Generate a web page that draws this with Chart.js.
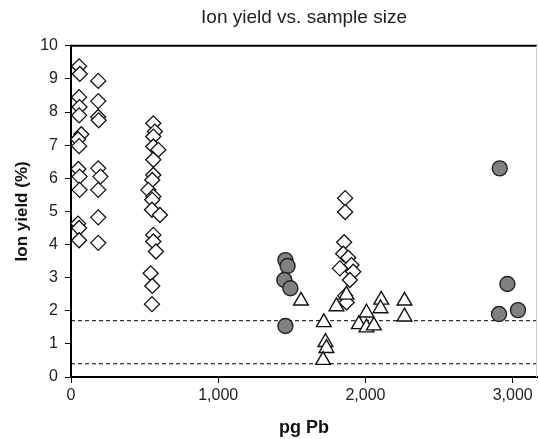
<!DOCTYPE html>
<html>
<head>
<meta charset="utf-8">
<script src="https://cdn.jsdelivr.net/npm/chart.js@4"></script>
<style>
  html, body { margin: 0; padding: 0; background: #fff; }
  #wrap { width: 539px; height: 439px; }
</style>
</head>
<body>
<div id="wrap"><canvas id="myChart" width="539" height="439"></canvas></div>
<script>
// open diamonds
const diamondX = [55, 60, 55, 58, 55, 70, 48, 55, 50, 58, 58, 48, 55, 55,
    185, 185, 185, 188, 185, 200, 185, 185, 185,
    559, 570, 559, 559, 593, 559, 559, 552, 525, 559, 552, 550, 604, 559, 559, 577, 541, 552, 550,
    1862, 1862, 1855, 1849, 1883, 1905, 1826, 1917, 1894, 1862, 1872];
const diamondY = [9.38, 9.15, 8.45, 8.15, 7.9, 7.33, 7.18, 6.97, 6.28, 6.05, 5.65, 4.63, 4.5, 4.13,
    8.94, 8.33, 7.85, 7.75, 6.3, 6.05, 5.65, 4.82, 4.05,
    7.66, 7.41, 7.26, 6.96, 6.86, 6.56, 6.1, 5.95, 5.65, 5.45, 5.35, 5.05, 4.89, 4.29, 4.09, 3.79, 3.13, 2.75, 2.2,
    5.4, 4.98, 4.07, 3.72, 3.6, 3.38, 3.28, 3.18, 2.93, 2.45, 2.25];

// grey circles
const circleX = [1456, 1471, 1449, 1490, 1456, 2912, 2964, 3036, 2907];
const circleY = [3.53, 3.35, 2.93, 2.68, 1.54, 6.3, 2.81, 2.02, 1.9];

// open triangles
const triangleX = [1562, 1803, 1871, 1717, 1728, 1735, 1712, 2007, 1955, 2007, 2057, 2107, 2102, 2265, 2265];
const triangleY = [2.3, 2.13, 2.48, 1.65, 1.05, 0.87, 0.51, 1.94, 1.59, 1.49, 1.55, 2.33, 2.07, 2.3, 1.82];

// dashed reference levels
const refLevels = [1.7, 0.4];

const xTicks = [0, 1000, 2000, 3000];
const xMin = 0, xMax = 3165;
const yMin = 0, yMax = 10;

function pts(xs, ys) {
    return xs.map((x, i) => ({ x: x, y: ys[i] }));
}

const refSets = refLevels.map(v => ({
    type: 'line',
    data: [{ x: xMin, y: v }, { x: xMax, y: v }],
    borderColor: '#000',
    borderWidth: 1,
    borderDash: [4, 3],
    pointRadius: 0,
    fill: false
}));

// frame: top line + faint right line
const frame = {
    id: 'frame',
    afterDraw(chart) {
        const a = chart.chartArea, c = chart.ctx;
        c.save();
        c.strokeStyle = '#000';
        c.lineWidth = 2;
        c.beginPath();
        c.moveTo(a.left - 1, a.top);
        c.lineTo(a.right, a.top);
        c.stroke();
        c.strokeStyle = '#ccc';
        c.lineWidth = 1;
        c.beginPath();
        c.moveTo(a.right - 0.5, a.top);
        c.lineTo(a.right - 0.5, a.bottom);
        c.stroke();
        c.restore();
    }
};

const ctx = document.getElementById('myChart').getContext('2d');
new Chart(ctx, {
    type: 'scatter',
    data: {
        datasets: [
            {
                data: pts(triangleX, triangleY),
                pointStyle: 'triangle',
                pointRadius: 8.5,
                backgroundColor: '#fff',
                borderColor: '#111',
                borderWidth: 1.4
            },
            {
                data: pts(circleX, circleY),
                pointStyle: 'circle',
                pointRadius: 7.5,
                backgroundColor: '#808080',
                borderColor: '#222',
                borderWidth: 1.4
            },
            {
                data: pts(diamondX, diamondY),
                pointStyle: 'rectRot',
                pointRadius: 7.5,
                backgroundColor: '#fff',
                borderColor: '#111',
                borderWidth: 1.3
            },
            ...refSets
        ]
    },
    options: {
        responsive: false,
        animation: false,
        layout: { autoPadding: false, padding: { left: 0, right: 2, top: 0, bottom: 0 } },
        plugins: {
            legend: { display: false },
            tooltip: { enabled: false },
            title: {
                display: true,
                text: 'Ion yield vs. sample size',
                fullSize: false,
                color: '#222',
                font: { family: 'Liberation Sans, Arial, sans-serif', size: 19, weight: 'normal' },
                padding: { top: 6, bottom: 17 }
            }
        },
        scales: {
            x: {
                type: 'linear',
                min: xMin,
                max: xMax,
                afterBuildTicks: s => { s.ticks = xTicks.map(v => ({ value: v })); },
                grid: { drawOnChartArea: false, drawTicks: true, tickLength: 6, color: '#000', tickWidth: 1 },
                border: { color: '#000', width: 2 },
                ticks: {
                    maxRotation: 0,
                    autoSkip: false,
                    padding: 3,
                    color: '#222',
                    font: { family: 'Liberation Sans, Arial, sans-serif', size: 16 },
                    callback: v => v.toLocaleString('en-US')
                },
                title: {
                    display: true,
                    text: 'pg Pb',
                    color: '#111',
                    font: { family: 'Liberation Sans, Arial, sans-serif', size: 18, weight: 'bold' },
                    padding: { top: 0, bottom: 0 }
                },
                afterFit: s => { s.height = 62; }
            },
            y: {
                min: yMin,
                max: yMax,
                grid: { drawOnChartArea: false, drawTicks: true, tickLength: 6, color: '#000', tickWidth: 1 },
                border: { color: '#000', width: 2 },
                ticks: {
                    stepSize: 1,
                    padding: 7,
                    color: '#222',
                    font: { family: 'Liberation Sans, Arial, sans-serif', size: 16 }
                },
                title: {
                    display: true,
                    text: 'Ion yield (%)',
                    color: '#111',
                    font: { family: 'Liberation Sans, Arial, sans-serif', size: 17, weight: 'bold' },
                    padding: { top: 12, bottom: 0 }
                },
                afterFit: s => { s.width = 71; }
            }
        }
    },
    plugins: [frame]
});
</script>
</body>
</html>
